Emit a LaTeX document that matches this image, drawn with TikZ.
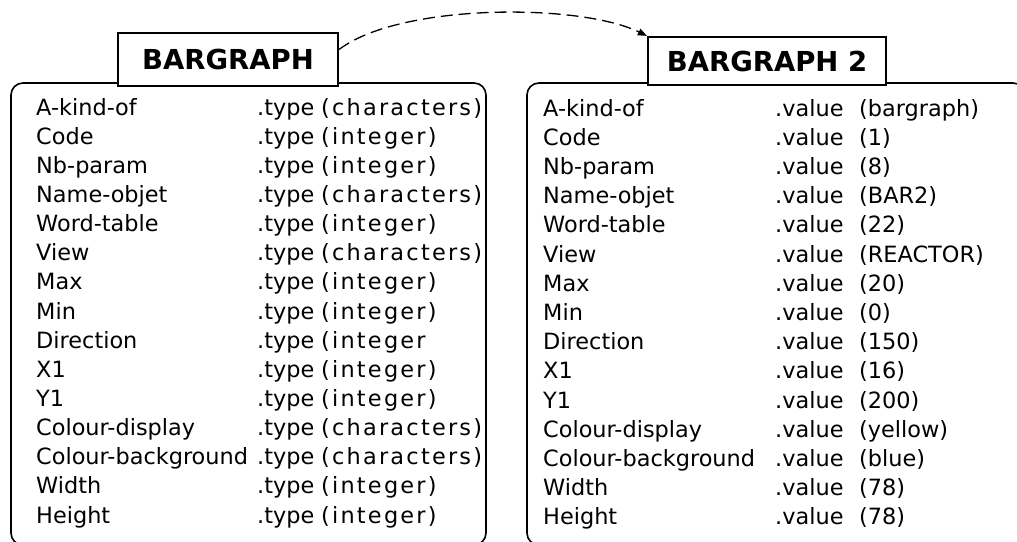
\documentclass[tikz,border=0pt]{standalone}
\usepackage{fontspec}
\setmainfont{DejaVu Sans}
\newfontfamily\widefont[LetterSpace=10]{DejaVu Sans}
\usetikzlibrary{arrows.meta,calc}
\begin{document}
\begin{tikzpicture}[x=1pt,y=-1pt,
  frame/.style={draw,line width=1.6pt,rounded corners=12pt,inner sep=0pt},
  titlebox/.style={draw,fill=white,line width=2.2pt,inner sep=0pt,font=\fontsize{27.5}{30}\selectfont\bfseries},
  rowtext/.style={anchor=base west,inner sep=0pt,font=\fontsize{22.4}{26}\selectfont},
  link/.style={line width=1.3pt,dash pattern=on 12pt off 6pt,-{Triangle[length=9pt,width=7pt]}}]
\useasboundingbox (0,0) rectangle (1017,541);
% frames
\node[frame,minimum width=475pt,minimum height=462pt] (lbox) at (248.5,314) {};
\node[frame,minimum width=498pt,minimum height=462pt] (rbox) at (776,314) {};
% titles
\node[titlebox,minimum width=220pt,minimum height=53pt] (t1) at (228,59.5) {BARGRAPH};
\node[titlebox,minimum width=238pt,minimum height=48pt] (t2) at (767,61) {BARGRAPH 2};
% link
\coordinate (s) at ([yshift=10pt]t1.east);
\draw[link] (s) .. controls (400,3) and (580,3) .. (t2.north west);
% left rows
\foreach \n/\t [count=\i from 0] in {A-kind-of/(characters),Code/(integer),Nb-param/(integer),Name-objet/(characters),Word-table/(integer),View/(characters),Max/(integer),Min/(integer),Direction/(integer,X1/(integer),Y1/(integer),Colour-display/(characters),Colour-background/(characters),Width/(integer),Height/(integer)}{
  \node[rowtext] (ln\i) at (36,115+29.15*\i) {\n};
  \node[rowtext] (lt\i) at (257,115+29.15*\i) {.type\hspace{0.3em}{\widefont\t}};
}
% right rows
\foreach \n/\v [count=\i from 0] in {A-kind-of/bargraph,Code/1,Nb-param/8,Name-objet/BAR2,Word-table/22,View/REACTOR,Max/20,Min/0,Direction/150,X1/16,Y1/200,Colour-display/yellow,Colour-background/blue,Width/78,Height/78}{
  \node[rowtext] (rn\i) at (543,116+29.2*\i) {\n};
  \node[rowtext] (rv\i) at (775,116+29.2*\i) {.value\hspace{0.7em}(\v)};
}
\end{tikzpicture}
\end{document}
